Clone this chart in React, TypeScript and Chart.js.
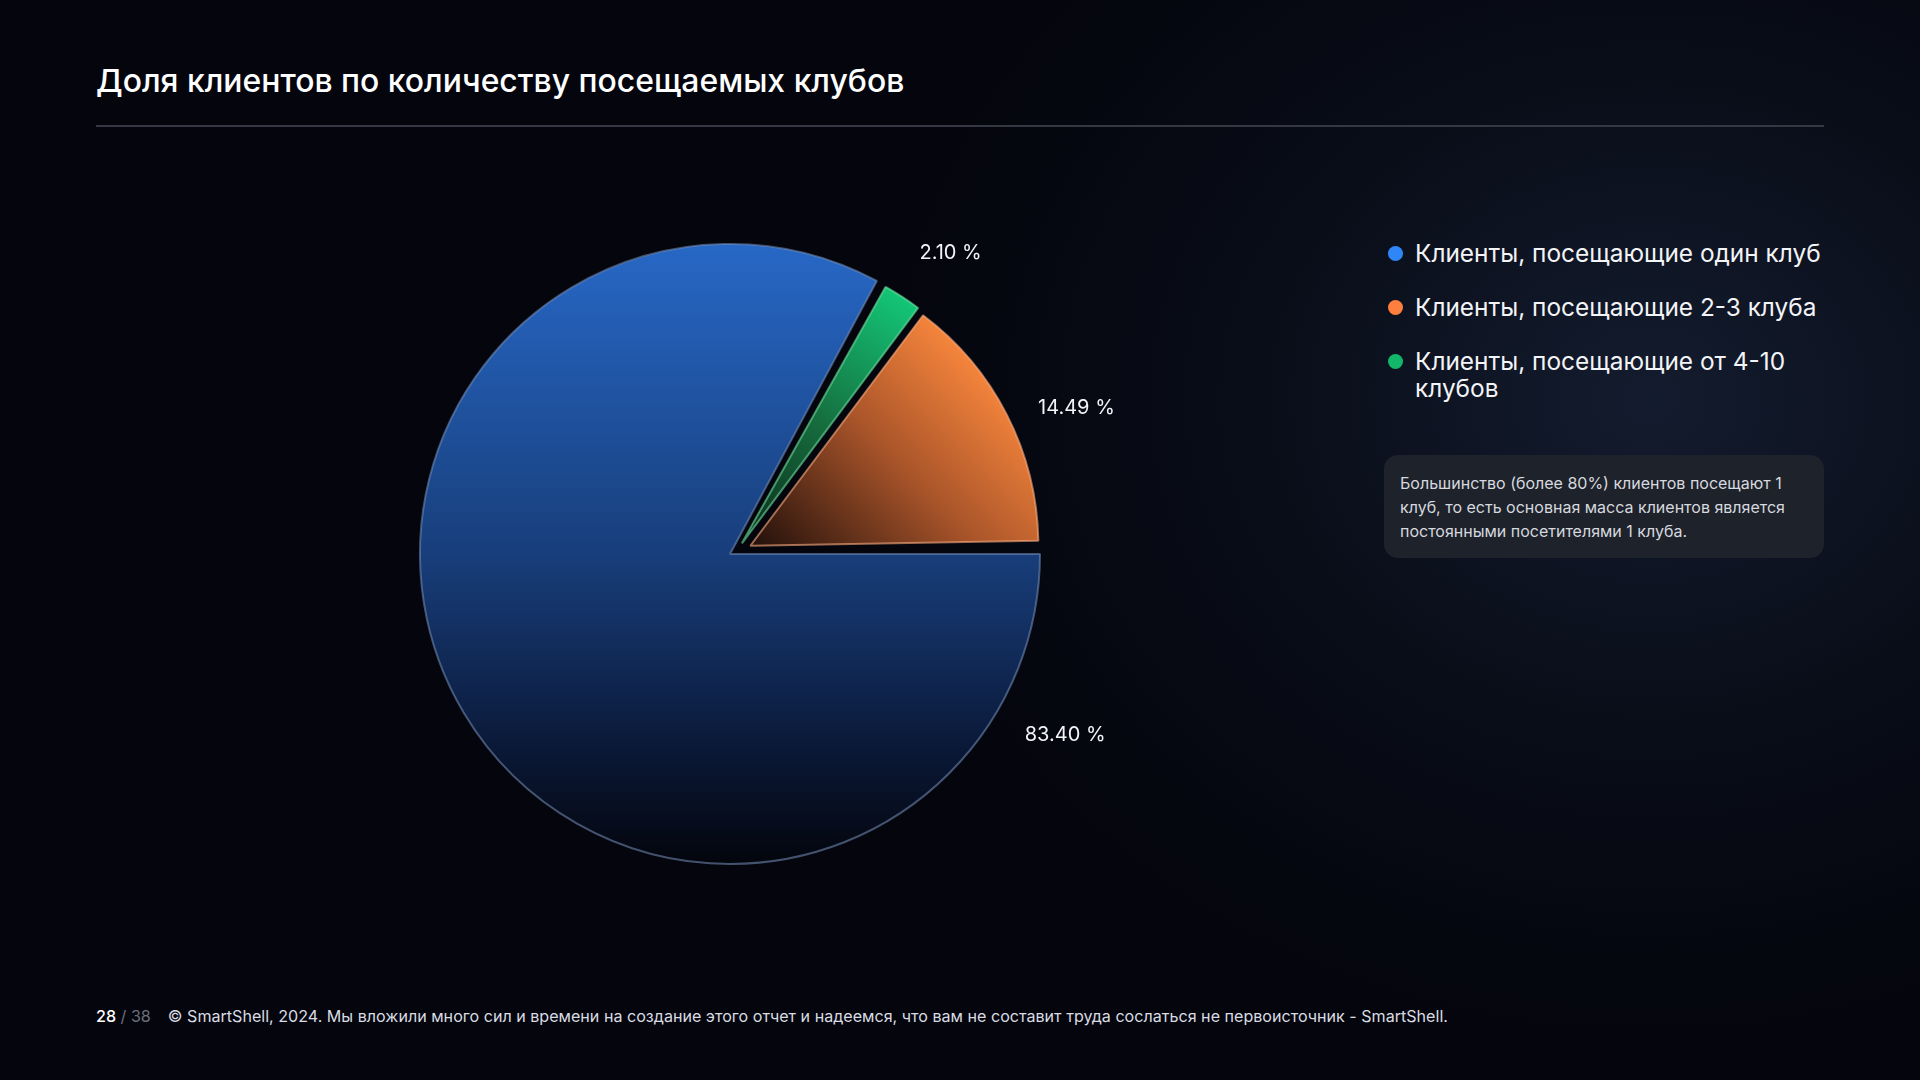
import React, { useEffect, useRef } from 'react';
import { Chart, registerables } from 'chart.js';

Chart.register(...registerables);

// ---- data (slice order = clockwise from 3 o'clock) ----
const CATEGORIES = [
  'Клиенты, посещающие один клуб',
  'Клиенты, посещающие от 4-10 клубов',
  'Клиенты, посещающие 2-3 клуба',
];
const SHARES = [83.4, 2.1, 14.49];
const LEGEND_ORDER = [0, 2, 1];
const LEGEND_DOTS = ['#2f86f6', '#12b76a', '#ff7f3e'];

const TITLE = 'Доля клиентов по количеству посещаемых клубов';
const NOTE = 'Большинство (более 80%) клиентов посещают 1 клуб, то есть основная масса клиентов является постоянными посетителями 1 клуба.';
const PAGE = '28';
const PAGES = '38';
const FOOTER = '© SmartShell, 2024. Мы вложили много сил и времени на создание этого отчет и надеемся, что вам не составит труда сослаться не первоисточник - SmartShell.';

const FONT = 'Inter, "Noto Sans", sans-serif';

// explode small slices: [distance px, direction degrees above horizontal]
const EXPLODE: Record<number, [number, number]> = { 1: [16, 42], 2: [22, 22] };
// visual gap: trim of slice end angle (degrees) and rotation nudge of exploded slices
const END_TRIM: Record<number, number> = { 0: 2 };
const EXPLODE_ROTATE_DEG = -1;
// label placement style: [angle shift deg (clockwise), extra radius px]; index 0 measured from slice start
const LABEL_STYLE: Record<number, [number, number]> = { 0: [28.4, 71], 1: [3.2, 63], 2: [4.2, 66] };

const explodePlugin = {
  id: 'explodeGroup',
  afterDatasetsUpdate(chart: any) {
    const meta = chart.getDatasetMeta(0);
    const R = Math.max(...meta.data.map((a: any) => a.outerRadius));
    const rot = (EXPLODE_ROTATE_DEG * Math.PI) / 180;
    meta.data.forEach((arc: any, i: number) => {
      const t = END_TRIM[i];
      if (t) {
        arc.endAngle -= (t * Math.PI) / 180;
        arc.circumference -= (t * Math.PI) / 180;
      }
      const e = EXPLODE[i];
      if (!e) return;
      const a = (e[1] * Math.PI) / 180;
      arc.startAngle += rot;
      arc.endAngle += rot;
      arc.x += e[0] * Math.cos(a);
      arc.y -= e[0] * Math.sin(a);
      arc.outerRadius = R - e[0];
    });
  },
};

const labelPlugin = {
  id: 'sliceLabels',
  afterDatasetsDraw(chart: any) {
    const meta = chart.getDatasetMeta(0);
    const area = chart.chartArea;
    const cx = (area.left + area.right) / 2;
    const cy = (area.top + area.bottom) / 2;
    const R = Math.max(...meta.data.map((a: any) => a.outerRadius));
    const ctx = chart.ctx;
    ctx.save();
    ctx.font = `400 20px ${FONT}`;
    ctx.fillStyle = '#f2f4f7';
    ctx.textAlign = 'center';
    ctx.textBaseline = 'middle';
    meta.data.forEach((arc: any, i: number) => {
      const [shift, extra] = LABEL_STYLE[i];
      const base = i === 0 ? arc.startAngle : (arc.startAngle + arc.endAngle) / 2;
      const ang = base + (shift * Math.PI) / 180;
      const r = R + extra;
      const x = cx + r * Math.cos(ang);
      const y = cy + r * Math.sin(ang);
      ctx.fillText(SHARES[i].toFixed(2) + ' %', x, y);
    });
    ctx.restore();
  },
};

function sliceFill(ctx: any) {
  const chart = ctx.chart;
  const area = chart.chartArea;
  const i = ctx.dataIndex;
  if (!area) return LEGEND_DOTS[i];
  const c = chart.ctx;
  const cx = (area.left + area.right) / 2;
  const cy = (area.top + area.bottom) / 2;
  const R = Math.min(area.width, area.height) / 2;
  if (i === 0) {
    const g = c.createLinearGradient(0, cy - R, 0, cy + R);
    g.addColorStop(0, '#2768c6');
    g.addColorStop(0.5, '#183e7b');
    g.addColorStop(0.8, '#0b1a3a');
    g.addColorStop(1, '#03050c');
    return g;
  }
  if (i === 1) {
    const a = (56 * Math.PI) / 180;
    const g = c.createLinearGradient(cx, cy, cx + R * Math.cos(a), cy - R * Math.sin(a));
    g.addColorStop(0, '#0a2417');
    g.addColorStop(0.5, '#166b3d');
    g.addColorStop(1, '#13c677');
    return g;
  }
  const g = c.createLinearGradient(cx + 20, cy, cx + 0.78 * R, cy - 0.7 * R);
  g.addColorStop(0, '#1c0d0a');
  g.addColorStop(0.55, '#aa552a');
  g.addColorStop(1, '#ff8b3e');
  return g;
}

const BORDERS = ['rgba(120,145,190,0.55)', 'rgba(110,225,160,0.6)', 'rgba(255,175,130,0.6)'];

function PieChart() {
  const ref = useRef<HTMLCanvasElement | null>(null);
  useEffect(() => {
    if (!ref.current) return;
    const chart = new Chart(ref.current, {
      type: 'pie',
      data: {
        labels: CATEGORIES,
        datasets: [
          {
            data: SHARES,
            backgroundColor: sliceFill as any,
            borderColor: BORDERS,
            borderWidth: 2,
          },
        ],
      },
      options: {
        responsive: false,
        animation: false,
        events: [],
        rotation: 90,
        layout: { padding: 139 },
        plugins: { legend: { display: false }, tooltip: { enabled: false } },
      },
      plugins: [explodePlugin, labelPlugin],
    });
    return () => chart.destroy();
  }, []);
  return (
    <canvas
      ref={ref}
      width={900}
      height={900}
      style={{ position: 'absolute', left: 280, top: 104, width: 900, height: 900 }}
    />
  );
}

export default function App() {
  return (
    <div
      style={{
        position: 'fixed',
        left: 0,
        top: 0,
        width: 1920,
        height: 1080,
        overflow: 'hidden',
        fontFamily: FONT,
        background:
          'radial-gradient(ellipse 900px 750px at 1650px 400px, rgba(20,29,48,0.95) 0%, rgba(11,16,28,0.7) 45%, rgba(4,5,13,0) 85%), #04050d',
      }}
    >
      <div
        style={{
          position: 'absolute',
          left: 96,
          top: 62,
          fontSize: 31.9,
          lineHeight: '38px',
          fontWeight: 500,
          color: '#ffffff',
          whiteSpace: 'nowrap',
        }}
      >
        {TITLE}
      </div>
      <div style={{ position: 'absolute', left: 96, top: 125, width: 1728, height: 2, background: '#353842' }} />

      <PieChart />

      <div style={{ position: 'absolute', left: 1388, top: 240, width: 440 }}>
        {LEGEND_ORDER.map((idx, k) => (
          <div key={idx} style={{ display: 'flex', alignItems: 'flex-start', marginTop: k === 0 ? 0 : 27 }}>
            <div
              style={{
                width: 15,
                height: 15,
                borderRadius: '50%',
                background: LEGEND_DOTS[idx],
                marginTop: 6,
                flex: '0 0 15px',
              }}
            />
            <div
              style={{
                marginLeft: 12,
                fontSize: 24.4,
                lineHeight: '27px',
                color: '#f3f4f7',
                fontWeight: 400,
              }}
            >
              {CATEGORIES[idx]}
            </div>
          </div>
        ))}
      </div>

      <div
        style={{
          position: 'absolute',
          left: 1384,
          top: 455,
          width: 440,
          height: 103,
          boxSizing: 'border-box',
          borderRadius: 14,
          background: '#1e222b',
          padding: '16px 16px',
          fontSize: 16,
          lineHeight: '24px',
          color: '#d6d9df',
        }}
      >
        {NOTE}
      </div>

      <div
        style={{
          position: 'absolute',
          left: 96,
          top: 1005,
          fontSize: 16.1,
          lineHeight: '22px',
          color: '#d9dce2',
          whiteSpace: 'nowrap',
        }}
      >
        <span style={{ color: '#ffffff', fontWeight: 500 }}>{PAGE}</span>
        <span style={{ color: '#6c707a' }}> / {PAGES}</span>
        <span style={{ marginLeft: 17 }}>{FOOTER}</span>
      </div>
    </div>
  );
}
